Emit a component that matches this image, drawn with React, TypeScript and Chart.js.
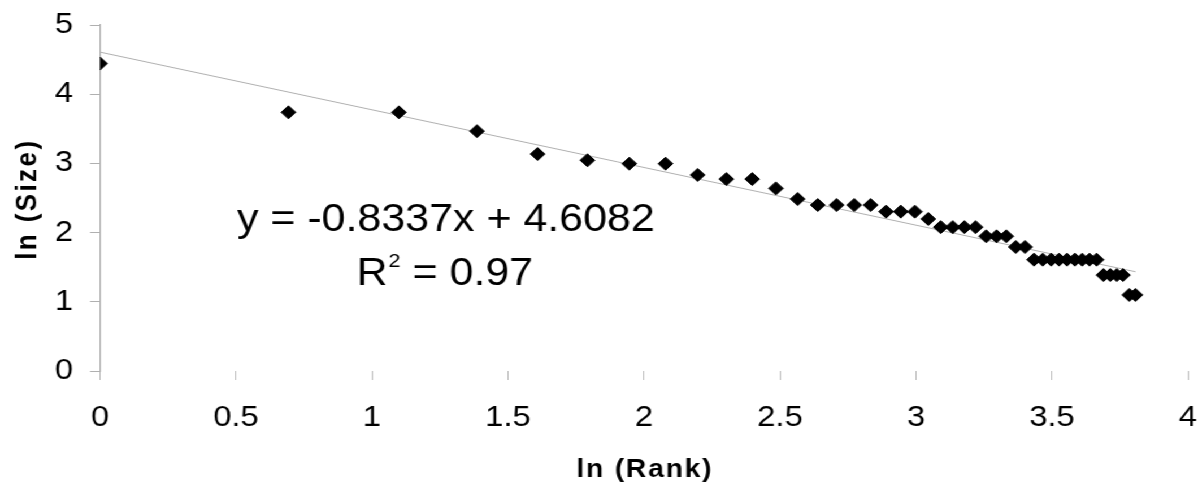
import React, { useEffect, useRef } from 'react';
import { Chart, registerables } from 'chart.js';

Chart.register(...registerables);

// ---- data ----
const LN_RANK = [
  0, 0.693, 1.099, 1.386, 1.609, 1.792, 1.946, 2.079, 2.197, 2.303,
  2.398, 2.485, 2.565, 2.639, 2.708, 2.773, 2.833, 2.89, 2.944, 2.996,
  3.045, 3.091, 3.135, 3.178, 3.219, 3.258, 3.296, 3.332, 3.367, 3.401,
  3.434, 3.466, 3.497, 3.526, 3.555, 3.584, 3.611, 3.638, 3.664, 3.689,
  3.714, 3.738, 3.761, 3.784, 3.807,
];
const LN_SIZE = [
  4.443, 3.738, 3.738, 3.466, 3.135, 3.045, 2.996, 2.996, 2.833, 2.773,
  2.773, 2.639, 2.485, 2.398, 2.398, 2.398, 2.398, 2.303, 2.303, 2.303,
  2.197, 2.079, 2.079, 2.079, 2.079, 1.946, 1.946, 1.946, 1.792, 1.792,
  1.609, 1.609, 1.609, 1.609, 1.609, 1.609, 1.609, 1.609, 1.609, 1.386,
  1.386, 1.386, 1.386, 1.099, 1.099,
];
const TREND_SLOPE = -0.8337;
const TREND_INTERCEPT = 4.6082;
const TREND_X = [0, 3.807];
const R_SQUARED = '0.97';

const X_TICK_LABELS = ['0', '0.5', '1', '1.5', '2', '2.5', '3', '3.5', '4'];
const Y_TICK_LABELS = ['0', '1', '2', '3', '4', '5'];
const X_TITLE = 'ln (Rank)';
const Y_TITLE = 'ln (Size)';
const EQUATION_TEXT = `y = ${TREND_SLOPE}x + ${TREND_INTERCEPT}`;

// annotation anchors in data units
const EQ_POS = [0.5035, 2.023];
const R2_POS = [0.943, 1.243];

// ---- layout ----
const OUT_W = 1198;
const H = 486;
const INNER_W = 1060;
const STRETCH = OUT_W / INNER_W;
const FONT = '"Liberation Sans", Arial, Helvetica, sans-serif';

const textPlugin = {
  id: 'textPlugin',
  afterDraw(chart: any) {
    const { ctx, scales, chartArea } = chart;
    const xs = scales.x;
    const ys = scales.y;
    ctx.save();
    ctx.fillStyle = '#000';
    ctx.textBaseline = 'alphabetic';
    ctx.textAlign = 'left';
    // equation
    ctx.font = `38px ${FONT}`;
    ctx.fillText(EQUATION_TEXT, xs.getPixelForValue(EQ_POS[0]), ys.getPixelForValue(EQ_POS[1]));
    // R^2
    let px = xs.getPixelForValue(R2_POS[0]);
    const py = ys.getPixelForValue(R2_POS[1]);
    ctx.fillText('R', px, py);
    px += ctx.measureText('R').width + 1;
    ctx.font = `19px ${FONT}`;
    ctx.fillText('2', px, py - 18);
    px += ctx.measureText('2').width;
    ctx.font = `38px ${FONT}`;
    ctx.fillText(` = ${R_SQUARED}`, px, py);

    // axis titles
    ctx.font = `bold 25px ${FONT}`;
    try { (ctx as any).letterSpacing = '1.6px'; } catch (e) {}
    ctx.textAlign = 'center';
    ctx.fillText(X_TITLE, (chartArea.left + chartArea.right) / 2 + 0.8, 477);

    ctx.font = `bold 26px ${FONT}`;
    try { (ctx as any).letterSpacing = '2.4px'; } catch (e) {}
    ctx.translate(31.9, (chartArea.top + chartArea.bottom) / 2 + 1.2);
    ctx.rotate(-Math.PI / 2);
    ctx.fillText(Y_TITLE, 0, 0);
    ctx.restore();
  },
};

export default function App() {
  const ref = useRef<HTMLCanvasElement | null>(null);

  useEffect(() => {
    if (!ref.current) return;
    const points = LN_RANK.map((x, i) => ({ x, y: LN_SIZE[i] }));
    const trend = TREND_X.map((x) => ({ x, y: TREND_SLOPE * x + TREND_INTERCEPT }));
    const chart = new Chart(ref.current, {
      type: 'scatter',
      data: {
        datasets: [
          {
            label: 'data',
            data: points,
            pointStyle: 'rectRot',
            pointRadius: 6.5,
            pointBackgroundColor: '#000',
            pointBorderColor: '#000',
            pointBorderWidth: 1,
            showLine: false,
          },
          {
            label: 'trend',
            data: trend,
            showLine: true,
            borderColor: '#b0b0b0',
            borderWidth: 1,
            pointRadius: 0,
            fill: false,
          },
        ],
      },
      options: {
        animation: false,
        responsive: true,
        maintainAspectRatio: false,
        layout: { padding: { left: 0, right: 10 / STRETCH, top: 25, bottom: 0 } },
        plugins: { legend: { display: false }, tooltip: { enabled: false } },
        scales: {
          x: {
            type: 'linear',
            min: 0,
            max: 4,
            afterFit: (s: any) => {
              s.height = H - 371;
              s.paddingLeft = 0;
              s.paddingRight = 0;
            },
            afterBuildTicks: (s: any) => {
              s.ticks = X_TICK_LABELS.map((_, i) => ({ value: i * 0.5 }));
            },
            ticks: {
              stepSize: 0.5,
              color: '#000',
              font: { family: FONT, size: 29 },
              padding: 21,
              maxRotation: 0,
              autoSkip: false,
              callback: (_v: any, i: number) => X_TICK_LABELS[i],
            },
            grid: { drawOnChartArea: false, drawTicks: true, tickLength: 9, color: '#bdbdbd', lineWidth: 1 },
            border: { display: false },
            title: { display: false },
          },
          y: {
            type: 'linear',
            min: 0,
            max: 5,
            afterFit: (s: any) => {
              s.width = 100 / STRETCH;
              s.paddingTop = 0;
              s.paddingBottom = 0;
            },
            afterBuildTicks: (s: any) => {
              s.ticks = Y_TICK_LABELS.map((_, i) => ({ value: i }));
            },
            ticks: {
              stepSize: 1,
              color: '#000',
              font: { family: FONT, size: 29 },
              padding: 15,
              callback: (_v: any, i: number) => Y_TICK_LABELS[i],
            },
            grid: { drawOnChartArea: false, drawTicks: true, tickLength: 8.8, color: '#b0b0b0', lineWidth: 1 },
            border: { display: true, color: '#b0b0b0', width: 1.2 },
            title: { display: false },
          },
        },
      },
      plugins: [textPlugin],
    });
    return () => chart.destroy();
  }, []);

  return (
    <div
      style={{
        position: 'absolute',
        left: 0,
        top: 0,
        width: INNER_W,
        height: H,
        transform: `scaleX(${STRETCH})`,
        transformOrigin: '0 0',
        background: '#fff',
      }}
    >
      <canvas ref={ref} />
    </div>
  );
}
